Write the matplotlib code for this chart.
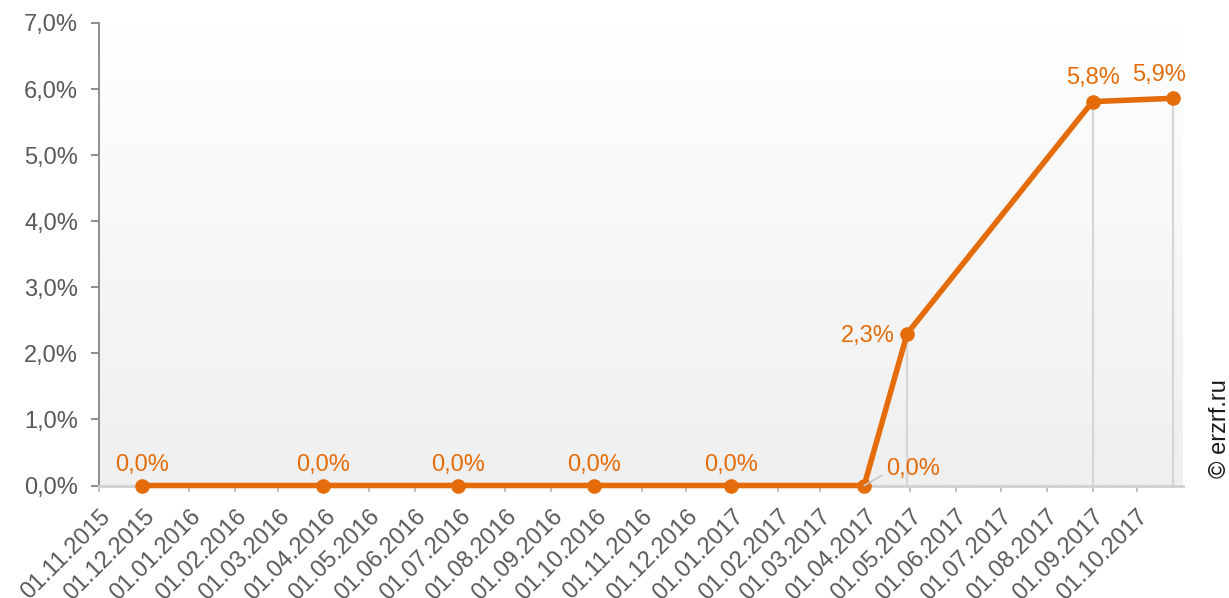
import numpy as np
import matplotlib.pyplot as plt
from matplotlib.colors import LinearSegmentedColormap

plt.rcParams['font.family'] = ['Liberation Sans', 'DejaVu Sans']

# Data
dates = ['2015-11-30', '2016-03-31', '2016-06-30', '2016-09-30', '2016-12-31',
         '2017-03-31', '2017-04-29', '2017-09-01', '2017-10-25']
values = [0.0, 0.0, 0.0, 0.0, 0.0, 0.0, 2.3, 5.81, 5.86]
tick_dates = np.arange('2015-11', '2017-11', dtype='datetime64[M]').astype('datetime64[D]')
y_ticks = [0, 1, 2, 3, 4, 5, 6, 7]

orange = '#e46c0a'
grey_txt = '#595959'

x = np.array(dates, dtype='datetime64[D]')

fig = plt.figure(figsize=(12.29, 5.98), dpi=100)
ax = fig.add_axes([99 / 1229, 1 - 485.5 / 598, (1183 - 99) / 1229, (485.5 - 23) / 598])

# gradient background of plot area
cmap = LinearSegmentedColormap.from_list('bg', ['#ffffff', '#efefef'])
ax.imshow(np.linspace(0, 1, 256).reshape(-1, 1), cmap=cmap, aspect='auto',
          extent=[0, 1, 0, 1], transform=ax.transAxes, zorder=0)

# drop lines
ax.vlines(x, 0, values, color='#d6d6d6', lw=1.6, zorder=1)
ax.plot(x, values, color=orange, lw=4, marker='o', ms=9.5, zorder=3, clip_on=False)

# data labels (offsets in pixels)
offsets = [(0, 14, 'center', 'baseline')] * 5 + [
    (22, 11, 'left', 'baseline'),
    (-12, -2, 'right', 'center'),
    (1, 18, 'center', 'baseline'),
    (-14, 17, 'center', 'baseline'),
]
for xi, v, (dx, dy, ha, va) in zip(x, values, offsets):
    txt = f'{v:.1f}%'.replace('.', ',')
    arrow = None
    if ha == 'left':
        arrow = dict(arrowstyle='-', color='#c8c8c8', lw=1.2, shrinkA=1, shrinkB=0,
                     relpos=(0, 0.3))
    ax.annotate(txt, (xi, v), xytext=(dx, dy), textcoords='offset pixels',
                ha=ha, va=va, color=orange, fontsize=17, zorder=4,
                arrowprops=arrow)

ax.set_xlim(np.datetime64('2015-11-01'), np.datetime64('2017-11-01'))
ax.set_ylim(0, 7)

ax.set_yticks(y_ticks)
ax.set_yticklabels([f'{t:.1f}%'.replace('.', ',') for t in y_ticks])
ax.set_xticks(tick_dates)
ax.set_xticklabels([str(d)[8:10] + '.' + str(d)[5:7] + '.' + str(d)[:4] for d in tick_dates],
                   rotation=45, ha='right', va='top', rotation_mode='anchor')

for s in ['top', 'right']:
    ax.spines[s].set_visible(False)
ax.spines['left'].set_color('#868686')
ax.spines['left'].set_linewidth(1.3)
ax.spines['bottom'].set_color('#d0d0d0')
ax.spines['bottom'].set_linewidth(2)
ax.tick_params(axis='y', length=6, width=1.3, color='#868686', labelcolor=grey_txt,
               labelsize=17, pad=9)
ax.tick_params(axis='x', length=4.5, width=1.4, color='#c0c0c0', labelcolor=grey_txt,
               labelsize=17, pad=10)

fig.text(0.9927, 0.284, '© erzrf.ru', rotation=90, ha='center', va='center',
         fontsize=17, color='#1a1a1a')

fig.savefig('out.png', dpi=100)
